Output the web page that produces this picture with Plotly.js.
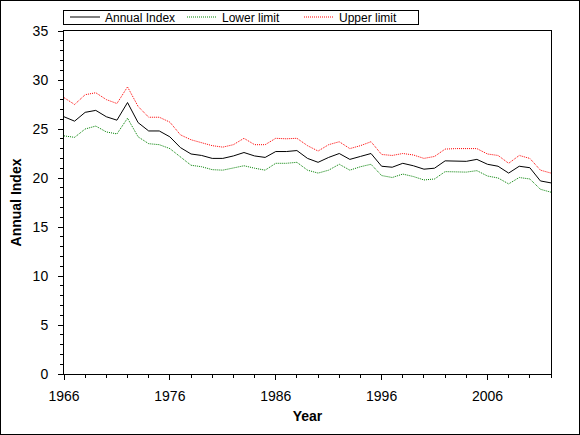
<!DOCTYPE html>
<html>
<head>
<meta charset="utf-8">
<script src="https://cdn.plot.ly/plotly-3.0.1.min.js"></script>
<style>
  html, body { margin: 0; padding: 0; background: #fff; }
  #frame { width: 578px; height: 433px; border: 1px solid #000; }
</style>
</head>
<body>
<div id="frame"></div>
<script>
var years = [1966,1967,1968,1969,1970,1971,1972,1973,1974,1975,
             1976,1977,1978,1979,1980,1981,1982,1983,1984,1985,
             1986,1987,1988,1989,1990,1991,1992,1993,1994,1995,
             1996,1997,1998,1999,2000,2001,2002,2003,2004,2005,
             2006,2007,2008,2009,2010,2011,2012];

var annualIndex = [26.25,25.8,26.7,26.9,26.25,25.9,27.7,25.65,24.8,24.8,
                   24.2,23.1,22.45,22.3,22.0,22.0,22.25,22.6,22.25,22.1,
                   22.7,22.7,22.8,22.0,21.6,22.1,22.5,21.9,22.2,22.5,
                   21.2,21.1,21.5,21.25,20.9,21.0,21.75,21.7,21.7,21.9,
                   21.4,21.2,20.5,21.2,21.05,19.7,19.5];

var lowerLimit = [24.3,24.15,25.0,25.3,24.7,24.5,26.1,24.2,23.5,23.4,
                  23.0,22.1,21.3,21.15,20.85,20.8,21.0,21.25,21.0,20.8,
                  21.5,21.5,21.6,20.8,20.5,20.8,21.4,20.8,21.15,21.4,
                  20.25,20.05,20.4,20.15,19.8,19.9,20.65,20.6,20.6,20.75,
                  20.2,20.0,19.4,20.05,19.9,18.85,18.55];

var upperLimit = [28.2,27.5,28.5,28.7,28.0,27.6,29.3,27.3,26.2,26.2,
                  25.7,24.4,23.9,23.6,23.3,23.15,23.4,24.05,23.4,23.4,
                  24.05,24.0,24.05,23.3,22.75,23.4,23.7,23.0,23.3,23.7,
                  22.4,22.3,22.5,22.35,22.0,22.2,22.95,23.0,23.0,23.0,
                  22.45,22.3,21.5,22.3,22.0,20.8,20.5];

var seriesNames = ["Annual Index", "Lower limit", "Upper limit"];
var xTitle = "Year";
var yTitle = "Annual Index";

var FONT = "Arial, 'Liberation Sans', sans-serif";

var traces = [
  { x: years, y: annualIndex, name: seriesNames[0], type: "scatter", mode: "lines",
    line: { color: "#000000", width: 1 } },
  { x: years, y: lowerLimit, name: seriesNames[1], type: "scatter", mode: "lines",
    line: { color: "#008000", width: 1, dash: "1px,1px" } },
  { x: years, y: upperLimit, name: seriesNames[2], type: "scatter", mode: "lines",
    line: { color: "#ff0000", width: 1, dash: "1px,1px" } }
];

var layout = {
  width: 578, height: 433,
  margin: { l: 63, r: 28, t: 30, b: 60, pad: 0, autoexpand: false },
  paper_bgcolor: "#ffffff", plot_bgcolor: "#ffffff",
  font: { family: FONT, size: 14, color: "#000" },
  showlegend: true,
  legend: {
    orientation: "h", x: 0, xanchor: "left", y: 1.086, yanchor: "top",
    bordercolor: "#000", borderwidth: 1, bgcolor: "rgba(255,255,255,0)",
    font: { family: FONT, size: 12, color: "#000" },
    entrywidth: 72, entrywidthmode: "pixels",
    itemclick: false
  },
  xaxis: {
    range: [1966, 2012], tick0: 1966, dtick: 10,
    ticks: "outside", ticklen: 5, tickwidth: 1, tickcolor: "#000",
    minor: { ticks: "outside", ticklen: 3, dtick: 2, tick0: 1966, tickcolor: "#000", showgrid: false },
    showline: true, linecolor: "#000", linewidth: 1, mirror: true,
    showgrid: false, zeroline: false,
    tickfont: { family: FONT, size: 14, color: "#000" },
    ticklabelstandoff: 4,
    title: { text: xTitle, font: { family: FONT, size: 14, color: "#000", weight: "bold" }, standoff: 8 }
  },
  yaxis: {
    range: [0, 35], tick0: 0, dtick: 5,
    ticks: "outside", ticklen: 5, tickwidth: 1, tickcolor: "#000",
    minor: { ticks: "outside", ticklen: 3, dtick: 1, tickcolor: "#000", showgrid: false },
    showline: true, linecolor: "#000", linewidth: 1, mirror: true,
    showgrid: false, zeroline: false,
    tickfont: { family: FONT, size: 14, color: "#000" },
    ticklabelstandoff: 7,
    title: { text: yTitle, font: { family: FONT, size: 14, color: "#000", weight: "bold" }, standoff: 7 }
  },
  xaxis2: {
    overlaying: "x", anchor: "y", side: "bottom",
    range: [1966, 2012], tick0: 1966, dtick: 10,
    ticks: "inside", ticklen: 4, tickwidth: 1, tickcolor: "#000",
    minor: { ticks: "inside", ticklen: 2, dtick: 2, tick0: 1966, tickcolor: "#000", showgrid: false },
    showticklabels: false, showline: false, showgrid: false, zeroline: false
  },
  yaxis2: {
    overlaying: "y", anchor: "x", side: "left",
    range: [0, 35], tick0: 0, dtick: 5,
    ticks: "inside", ticklen: 3, tickwidth: 1, tickcolor: "#000",
    minor: { ticks: "inside", ticklen: 3, dtick: 1, tickcolor: "#000", showgrid: false },
    showticklabels: false, showline: false, showgrid: false, zeroline: false
  }
};

Plotly.newPlot("frame", traces, layout, { staticPlot: true, displayModeBar: false }).then(function (gd) {
  // Tighten the legend box to a thin single-row frame around the legend text
  var bg = gd.querySelector(".legend rect.bg");
  var txt = gd.querySelector(".legend text.legendtext");
  if (!bg || !txt) return;
  var t = txt.getBoundingClientRect();
  var cy = t.top + t.height / 2;
  var r = bg.getBoundingClientRect();
  var curY = parseFloat(bg.getAttribute("y")) || 0;
  var curX = parseFloat(bg.getAttribute("x")) || 0;
  var curW = parseFloat(bg.getAttribute("width")) || r.width;
  var wantTop = cy - 7;
  bg.setAttribute("y", curY + (wantTop - r.top));
  bg.setAttribute("height", 14);
  bg.setAttribute("x", curX - 1);
  bg.setAttribute("width", curW + 3);
  bg.style.fill = "#ffffff";
  bg.style.fillOpacity = 1;
  bg.parentNode.insertBefore(bg, bg.parentNode.firstChild);
});
</script>
</body>
</html>
